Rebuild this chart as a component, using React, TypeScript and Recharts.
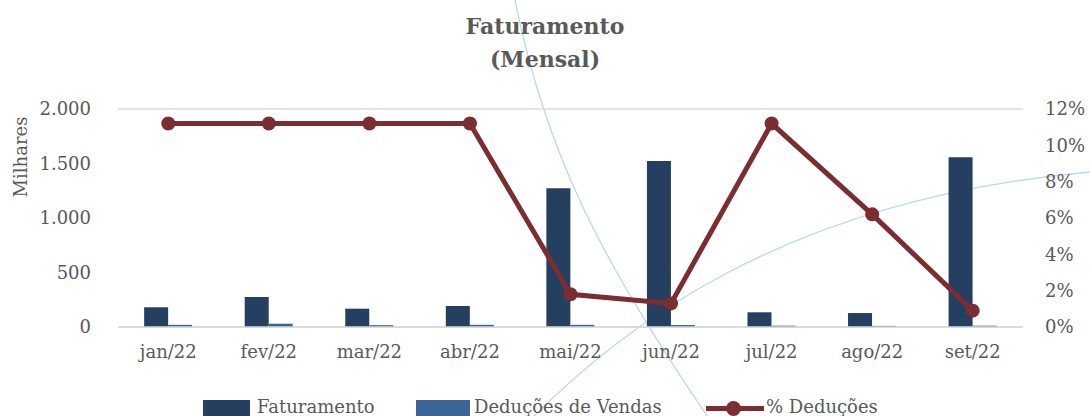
import React from 'react';
import {
  ComposedChart,
  Bar,
  Line,
  XAxis,
  YAxis,
  CartesianGrid,
} from 'recharts';

const MONTHS = ['jan/22', 'fev/22', 'mar/22', 'abr/22', 'mai/22', 'jun/22', 'jul/22', 'ago/22', 'set/22'];
// Milhares
const FATURAMENTO = [181, 275, 168, 193, 1272, 1523, 135, 128, 1557];
const DEDUCOES = [20, 30, 17, 20, 20, 18, 12, 10, 12];
// percent
const PCT_DEDUCOES = [11.2, 11.2, 11.2, 11.2, 1.8, 1.3, 11.2, 6.2, 0.9];

const LEFT_TICKS = [0, 500, 1000, 1500, 2000];
const RIGHT_TICKS = [0, 2, 4, 6, 8, 10, 12];

const C_FAT = '#243F60';
const C_DED = '#3A6596';
const C_PCT = '#7B2D31';
const TEXT = '#595959';
const FONT = '"DejaVu Serif", "Liberation Serif", serif';

const fmtThousands = (v: number) => v.toLocaleString('de-DE');

// right axis labels, left-aligned a bit away from the plot
const PctTick = (props: any) => {
  const { x, y, payload } = props;
  return (
    <text x={x} y={y} dy="0.355em" textAnchor="start" fontSize={18} fill={TEXT} fontFamily={FONT}>
      {`${payload.value}%`}
    </text>
  );
};

export default function App() {
  const data = MONTHS.map((m, i) => ({
    month: m,
    fat: FATURAMENTO[i],
    ded: DEDUCOES[i],
    pct: PCT_DEDUCOES[i],
  }));

  const tickStyle = { fontSize: 18, fill: TEXT, fontFamily: FONT };

  return (
    <div style={{ position: 'absolute', left: 0, top: 0, width: 1090, height: 416, background: '#fff', overflow: 'hidden', fontFamily: FONT }}>
      {/* faint background swooshes from the slide template */}
      <svg width={1090} height={416} style={{ position: 'absolute', left: 0, top: 0 }}>
        <path d="M515,0 C545,150 600,260 710,420" fill="none" stroke="#BCD8E8" strokeWidth={1.3} />
        <path d="M530,420 C620,330 780,200 1090,172" fill="none" stroke="#BCD8E8" strokeWidth={1.3} />
      </svg>
      <div style={{ position: 'absolute', top: 10, left: 0, width: 1090, textAlign: 'center', color: TEXT, fontWeight: 'bold', fontSize: 22, lineHeight: '33px' }}>
        Faturamento<br />(Mensal)
      </div>
      <div style={{ position: 'absolute', left: 20, top: 157, transform: 'translate(-50%, -50%) rotate(-90deg)', color: TEXT, fontSize: 18, whiteSpace: 'nowrap' }}>
        Milhares
      </div>
      <div style={{ position: 'absolute', left: 0, top: 0 }}>
        <ComposedChart
          width={1090}
          height={416}
          data={data}
          margin={{ top: 109, right: 0, left: 0, bottom: 0 }}
          barCategoryGap="26%"
          barGap={0}
        >
          <CartesianGrid vertical={false} stroke="#D9D9D9" strokeWidth={1.5} />
          <XAxis
            dataKey="month"
            tick={tickStyle}
            tickLine={false}
            axisLine={{ stroke: '#D9D9D9', strokeWidth: 1.5 }}
            tickMargin={12}
            height={89}
          />
          <YAxis
            yAxisId="left"
            domain={[0, 2000]}
            ticks={LEFT_TICKS}
            interval={0}
            tickFormatter={fmtThousands}
            tick={tickStyle}
            axisLine={false}
            tickLine={false}
            tickMargin={21}
            width={118}
          />
          <YAxis
            yAxisId="right"
            orientation="right"
            domain={[0, 12]}
            ticks={RIGHT_TICKS}
            interval={0}
            tick={<PctTick />}
            axisLine={false}
            tickLine={false}
            tickMargin={16}
            width={67}
          />
          <Bar yAxisId="left" dataKey="fat" name="Faturamento" fill={C_FAT} isAnimationActive={false} />
          <Bar yAxisId="left" dataKey="ded" name="Deduções de Vendas" fill={C_DED} isAnimationActive={false} />
          <Line
            yAxisId="right"
            dataKey="pct"
            name="% Deduções"
            stroke={C_PCT}
            strokeWidth={5}
            dot={{ r: 7, fill: C_PCT, stroke: C_PCT, strokeWidth: 0 }}
            isAnimationActive={false}
          />
        </ComposedChart>
      </div>
      {/* legend */}
      <div style={{ position: 'absolute', top: 396, left: 0, height: 24, width: 1090, color: TEXT, fontSize: 18 }}>
        <div style={{ position: 'absolute', left: 203, top: 4, width: 47, height: 16, background: C_FAT }} />
        <div style={{ position: 'absolute', left: 257, top: 0, whiteSpace: 'nowrap' }}>Faturamento</div>
        <div style={{ position: 'absolute', left: 416, top: 4, width: 54, height: 16, background: C_DED }} />
        <div style={{ position: 'absolute', left: 474, top: 0, whiteSpace: 'nowrap' }}>Deduções de Vendas</div>
        <div style={{ position: 'absolute', left: 706, top: 10, width: 58, height: 5, background: C_PCT }} />
        <div style={{ position: 'absolute', left: 726, top: 5, width: 15, height: 15, borderRadius: '50%', background: C_PCT }} />
        <div style={{ position: 'absolute', left: 766, top: 0, whiteSpace: 'nowrap' }}>% Deduções</div>
      </div>
    </div>
  );
}
